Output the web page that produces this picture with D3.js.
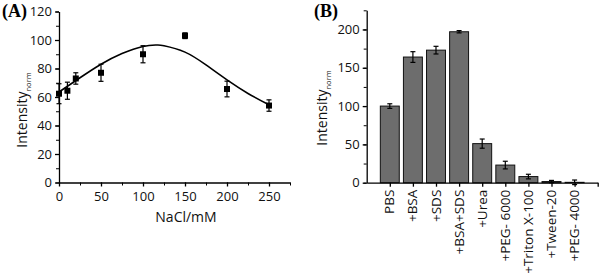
<!DOCTYPE html>
<html>
<head>
<meta charset="utf-8">
<script src="https://cdn.jsdelivr.net/npm/d3@7"></script>
<style>
  body { margin: 0; background: #fff; }
  svg text { font-family: "Open Sans", Arial, sans-serif; }
</style>
</head>
<body>
<div id="chart"></div>
<script>
// Panel A: NaCl concentration
const naclConc = [0, 10, 20, 50, 100, 150, 200, 250];
const naclInt = [62.3, 64.4, 73, 77, 90, 103, 65.6, 54];
const naclErr = [7, 6, 4, 6, 6, 2, 5.5, 4];
// fitted curve
const fitX = [0, 25, 50, 75, 100, 116, 125, 150, 175, 200, 225, 250];
const fitY = [63.5, 73.5, 83, 90.5, 95.5, 96.5, 96, 91.5, 82.5, 72, 62.5, 54.5];

// Panel B: additives
const additives = ["PBS", "+BSA", "+SDS", "+BSA+SDS", "+Urea", "+PEG- 6000", "+Triton X-100", "+Tween-20", "+PEG- 4000"];
const addInt = [100, 164, 173, 197, 51, 23, 8, 1.5, 0.5];
const addErr = [3, 7, 5, 1.5, 6, 5, 3, 1.5, 3];

const W = 600, H = 278;
const svg = d3.select("#chart").append("svg")
    .attr("width", W)
    .attr("height", H);

// ---------- Panel A ----------
const xA = d3.scaleLinear().domain([0, 275]).range([59, 290]);
const yA = d3.scaleLinear().domain([0, 120]).range([182.5, 11.5]);

const gA = svg.append("g");

// minor ticks
gA.append("g")
    .attr("transform", `translate(0,${yA(0)})`)
    .call(d3.axisBottom(xA).tickValues(d3.range(0, 276, 25)).tickSize(3).tickFormat(""))
    .call(g => g.select(".domain").remove());
gA.append("g")
    .attr("transform", `translate(${xA(0)},0)`)
    .call(d3.axisLeft(yA).tickValues(d3.range(0, 121, 10)).tickSize(3).tickFormat(""))
    .call(g => g.select(".domain").remove());

const axA_x = gA.append("g")
    .attr("transform", `translate(0,${yA(0)})`)
    .call(d3.axisBottom(xA).tickValues([0, 50, 100, 150, 200, 250]).tickSize(4).tickSizeOuter(0).tickPadding(5));
const axA_y = gA.append("g")
    .attr("transform", `translate(${xA(0)},0)`)
    .call(d3.axisLeft(yA).tickValues([0, 20, 40, 60, 80, 100, 120]).tickSize(4).tickSizeOuter(0).tickPadding(3));

[axA_x, axA_y].forEach(a => {
  a.selectAll("path, line").attr("stroke", "#000").attr("stroke-width", 1.3);
  a.selectAll("text").style("font-size", "13px").attr("fill", "#111");
});

// fit curve
gA.append("path")
    .datum(fitX.map((x, i) => [x, fitY[i]]))
    .attr("fill", "none")
    .attr("stroke", "#000")
    .attr("stroke-width", 1.6)
    .attr("d", d3.line().x(d => xA(d[0])).y(d => yA(d[1])).curve(d3.curveNatural));

// error bars + points
const ptsA = gA.selectAll(".ptA").data(naclConc.map((c, i) => ({ c, v: naclInt[i], e: naclErr[i] })))
    .enter().append("g");
ptsA.append("line")
    .attr("x1", d => xA(d.c)).attr("x2", d => xA(d.c))
    .attr("y1", d => yA(d.v - d.e)).attr("y2", d => yA(d.v + d.e))
    .attr("stroke", "#000").attr("stroke-width", 1.2);
[-1, 1].forEach(s => {
  ptsA.append("line")
      .attr("x1", d => xA(d.c) - 2.5).attr("x2", d => xA(d.c) + 2.5)
      .attr("y1", d => yA(d.v + s * d.e)).attr("y2", d => yA(d.v + s * d.e))
      .attr("stroke", "#000").attr("stroke-width", 1.2);
});
ptsA.append("rect")
    .attr("x", d => xA(d.c) - 3).attr("y", d => yA(d.v) - 3)
    .attr("width", 6).attr("height", 6)
    .attr("fill", "#000");

// titles
svg.append("text")
    .attr("x", 2).attr("y", 17)
    .style("font-family", "'Liberation Serif', 'Times New Roman', serif")
    .style("font-weight", "bold")
    .style("font-size", "18px")
    .text("(A)");

const ytA = svg.append("text")
    .attr("transform", "translate(27,110) rotate(-90)")
    .attr("text-anchor", "middle")
    .style("font-size", "14px")
    .attr("fill", "#111");
ytA.append("tspan").text("Intensity");
ytA.append("tspan").attr("dy", 4).style("font-size", "7.5px").text("norm");

svg.append("text")
    .attr("x", 186).attr("y", 222)
    .attr("text-anchor", "middle")
    .style("font-size", "14px")
    .attr("fill", "#111")
    .text("NaCl/mM");

// ---------- Panel B ----------
const xB = d3.scaleLinear().domain([0, 10]).range([366.7, 597.7]);
const yB = d3.scaleLinear().domain([0, 225]).range([182.7, 10.3]);
const step = xB(1) - xB(0);
const barW = step * 0.82;

const gB = svg.append("g");

gB.append("g")
    .attr("transform", `translate(${xB(0)},0)`)
    .call(d3.axisLeft(yB).tickValues(d3.range(0, 226, 25)).tickSize(3).tickFormat(""))
    .call(g => g.select(".domain").remove());

const dataB = additives.map((n, i) => ({ n, i: i + 1, v: addInt[i], e: addErr[i] }));

gB.selectAll(".bar").data(dataB).enter().append("rect")
    .attr("x", d => xB(d.i) - barW / 2)
    .attr("y", d => yB(d.v))
    .attr("width", barW)
    .attr("height", d => yB(0) - yB(d.v))
    .attr("fill", "#6d6d6d")
    .attr("stroke", "#111")
    .attr("stroke-width", 1);

const errB = gB.selectAll(".errB").data(dataB).enter().append("g");
errB.append("line")
    .attr("x1", d => xB(d.i)).attr("x2", d => xB(d.i))
    .attr("y1", d => yB(Math.max(0, d.v - d.e))).attr("y2", d => yB(d.v + d.e))
    .attr("stroke", "#000").attr("stroke-width", 1.2);
[-1, 1].forEach(s => {
  errB.append("line")
      .attr("x1", d => xB(d.i) - 2.5).attr("x2", d => xB(d.i) + 2.5)
      .attr("y1", d => yB(d.v + s * d.e)).attr("y2", d => yB(d.v + s * d.e))
      .attr("stroke", "#000").attr("stroke-width", 1.2);
});

const axB_x = gB.append("g")
    .attr("transform", `translate(0,${yB(0)})`)
    .call(d3.axisBottom(xB).tickValues(d3.range(1, 11)).tickSize(4).tickSizeOuter(0).tickFormat(""));
const axB_y = gB.append("g")
    .attr("transform", `translate(${xB(0)},0)`)
    .call(d3.axisLeft(yB).tickValues([0, 50, 100, 150, 200]).tickSize(4).tickSizeOuter(0).tickPadding(3));

[axB_x, axB_y].forEach(a => {
  a.selectAll("path, line").attr("stroke", "#000").attr("stroke-width", 1.3);
  a.selectAll("text").style("font-size", "13px").attr("fill", "#111");
});

// rotated category labels
gB.selectAll(".catB").data(dataB).enter().append("text")
    .attr("transform", d => `translate(${xB(d.i) + 4.5},${yB(0) + 7}) rotate(-90)`)
    .attr("text-anchor", "end")
    .style("font-size", "13.5px")
    .attr("fill", "#111")
    .text(d => d.n);

svg.append("text")
    .attr("x", 314).attr("y", 17)
    .style("font-family", "'Liberation Serif', 'Times New Roman', serif")
    .style("font-weight", "bold")
    .style("font-size", "18px")
    .text("(B)");

const ytB = svg.append("text")
    .attr("transform", "translate(327,108) rotate(-90)")
    .attr("text-anchor", "middle")
    .style("font-size", "14px")
    .attr("fill", "#111");
ytB.append("tspan").text("Intensity");
ytB.append("tspan").attr("dy", 4).style("font-size", "7.5px").text("norm");
</script>
</body>
</html>
